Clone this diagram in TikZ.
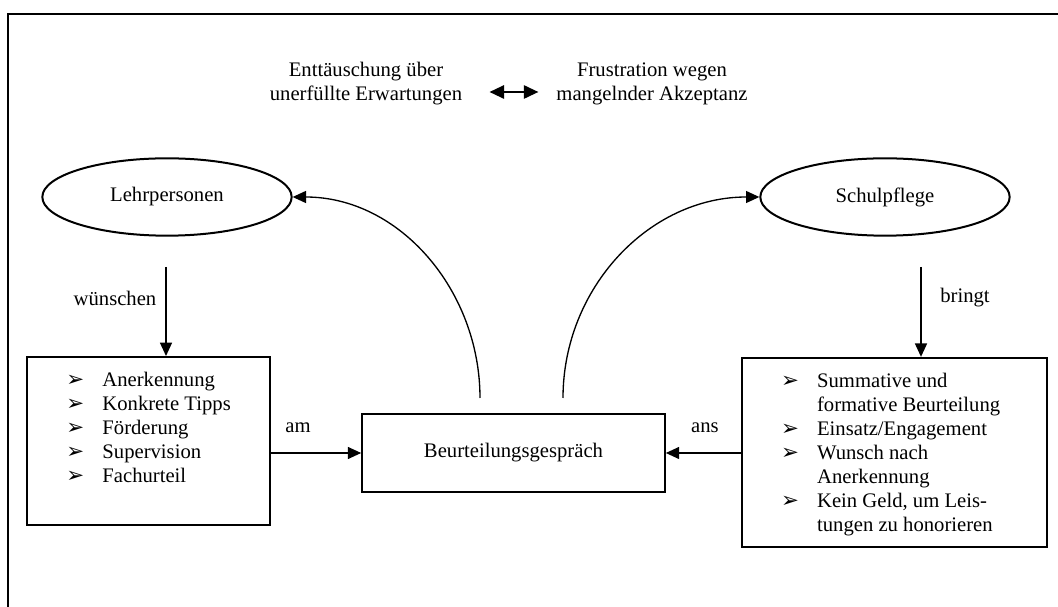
\documentclass[tikz,border=0pt]{standalone}
\usepackage{fontspec}
\setmainfont{Liberation Serif}
\newfontfamily\pfeilfont{DejaVu Sans}
\usetikzlibrary{shapes.geometric,arrows.meta}

\newcommand{\spitze}{{\pfeilfont\fontsize{16}{16}\selectfont ➢}}
\newcommand{\liste}[1]{\begin{tabular}[t]{@{}p{27pt}@{}l@{}}#1\end{tabular}}

\tikzset{
  oval/.style={draw, line width=1.5pt, ellipse, minimum width=187pt, minimum height=58pt},
  kasten/.style={draw, line width=1.5pt, inner sep=0pt},
  pfeil/.style={-{Triangle[length=10pt,width=9pt]}, line width=1pt},
  doppelpfeil/.style={{Triangle[length=11pt,width=10pt]}-{Triangle[length=11pt,width=10pt]}, line width=1.5pt},
}

\begin{document}
\begin{tikzpicture}[x=0.75pt,y=0.75pt,font=\fontsize{15.5}{18}\selectfont]
\useasboundingbox (0,0) rectangle (1058,607);
\draw[line width=1.5pt] (8,0) -- (8,593) -- (1058,593);

\node[align=center] (enttaeuschung) at (366,523) {Enttäuschung über\\unerfüllte Erwartungen};
\node[align=center] (frustration) at (652,523) {Frustration wegen\\mangelnder Akzeptanz};
\draw[doppelpfeil, shorten <=17pt, shorten >=10pt] ([yshift=-6pt]enttaeuschung.east) -- ([yshift=-6pt]frustration.west);

\node[oval] (lehrer) at (167,410) {Lehrpersonen};
\node[oval] (schulpflege) at (885,410) {Schulpflege};

\node[kasten, minimum width=182pt, minimum height=126pt] (links) at (148.5,166) {};
\node[anchor=north west, inner sep=0pt] (linksliste) at ([xshift=30pt,yshift=-10pt]links.north west) {\liste{
  \spitze & Anerkennung\\
  \spitze & Konkrete Tipps\\
  \spitze & Förderung\\
  \spitze & Supervision\\
  \spitze & Fachurteil}};

\node[kasten, minimum width=229pt, minimum height=142pt] (rechts) at (894.5,154.5) {};
\node[anchor=north west, inner sep=0pt] (rechtsliste) at ([xshift=30pt,yshift=-10pt]rechts.north west) {\liste{
  \spitze & Summative und\\
          & formative Beurteilung\\
  \spitze & Einsatz/Engagement\\
  \spitze & Wunsch nach\\
          & Anerkennung\\
  \spitze & Kein Geld, um Leis-\\
          & tungen zu honorieren}};

\node[kasten, minimum width=227pt, minimum height=58.5pt] (gespraech) at (513.5,154) {Beurteilungsgespräch};

\coordinate (w1) at (166,340);
\coordinate (b1) at (921,340);
\draw[pfeil] (w1) -- (w1 |- links.north);
\draw[pfeil] (b1) -- (b1 |- rechts.north);
\node[] (wuenschen) at (115,309) {wünschen};
\node[] (bringt) at (965,309) {bringt};

\draw[pfeil] (links.east |- gespraech.center) -- (gespraech.west);
\draw[pfeil] (rechts.west |- gespraech.center) -- (gespraech.east);
\node[] (am) at (298,179) {am};
\node[] (ans) at (705,179) {ans};

\coordinate (lstart) at (480,209);
\coordinate (rstart) at (563,209);
\draw[pfeil] (lstart) to[out=90,in=0] (lehrer.east);
\draw[pfeil] (rstart) to[out=90,in=180] (schulpflege.west);
\end{tikzpicture}
\end{document}
